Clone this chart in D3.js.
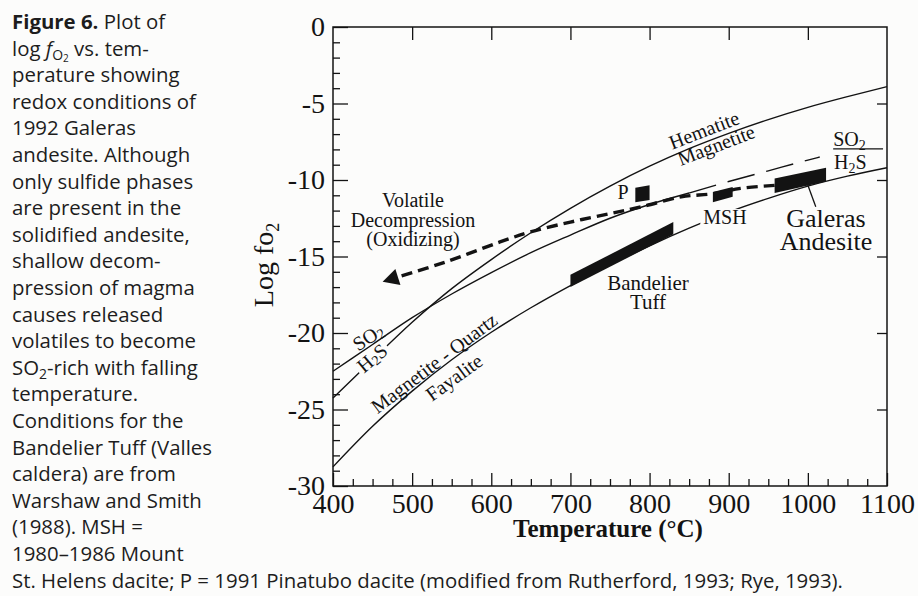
<!DOCTYPE html>
<html>
<head>
<meta charset="utf-8">
<script src="https://cdnjs.cloudflare.com/ajax/libs/d3/7.8.5/d3.min.js"></script>
<style>
  body { margin: 0; background: #fcfcfb; }
  svg { display: block; }
  text { white-space: pre; }
</style>
</head>
<body>
<div id="fig"></div>
<script>
// buffer curves, log fO2 every 50 °C
var temps = [400, 450, 500, 550, 600, 650, 700, 750, 800, 850, 900, 950, 1000, 1050, 1100];
var hmLog = [-24.25, -21.75, -19.3, -17.1, -15.2, -13.45, -11.85, -10.4, -9.1, -7.95, -6.95, -6.05, -5.25, -4.55, -3.9];
var fmqLog = [-28.75, -26.1, -23.8, -21.75, -19.95, -18.35, -16.9, -15.55, -14.3, -13.15, -12.1, -11.2, -10.4, -9.75, -9.2];

// SO2 / H2S boundary: solid up to 850 °C, long dashes above
var so2T = [400, 450, 500, 550, 600, 650, 700, 750, 800, 850, 900, 950, 1000, 1015];
var so2Log = [-22.5, -20.75, -19.0, -17.45, -16.05, -14.75, -13.6, -12.5, -11.6, -10.85, -10.1, -9.4, -8.7, -8.5];
var so2Break = 850;
var so2BarT = [1032, 1095], so2BarLog = [-7.97, -7.97];

// volatile decompression path (Galeras -> arrow head)
var arrowT = [958, 915, 880, 840, 790, 750, 700, 649, 611, 540, 482];
var arrowLog = [-10.35, -10.55, -10.9, -11.1, -11.75, -12.2, -12.75, -13.4, -14.05, -15.4, -16.34];

// sample fields: T range and lower / upper log fO2 at each end
var fieldNames = ['P', 'MSH', 'Galeras', 'Bandelier'];
var fieldT = [[782, 800], [880, 905], [958, 1023], [700, 830]];
var fieldLow = [[-11.45, -11.3], [-11.45, -11.1], [-10.85, -10.1], [-17.0, -13.55]];
var fieldHigh = [[-10.5, -10.35], [-10.78, -10.45], [-9.9, -9.2], [-16.2, -12.75]];
var leaderT = [999, 1010], leaderLog = [-10.2, -11.75];

var xTicks = [400, 500, 600, 700, 800, 900, 1000, 1100];
var yTicks = [0, -5, -10, -15, -20, -25, -30];

var caption = [
  [['Figure 6.', 'b'], [' Plot of']],
  [['log '], ['f', 'i'], ['O', 's1'], ['2', 's2'], [' vs. tem-']],
  [['perature showing']],
  [['redox conditions of']],
  [['1992 Galeras']],
  [['andesite. Although']],
  [['only sulfide phases']],
  [['are present in the']],
  [['solidified andesite,']],
  [['shallow decom-']],
  [['pression of magma']],
  [['causes released']],
  [['volatiles to become']],
  [['SO'], ['2', 's1'], ['-rich with falling']],
  [['temperature.']],
  [['Conditions for the']],
  [['Bandelier Tuff (Valles']],
  [['caldera) are from']],
  [['Warshaw and Smith']],
  [['(1988). MSH =']],
  [['1980\u20131986 Mount']],
  [['St. Helens dacite; P = 1991 Pinatubo dacite (modified from Rutherford, 1993; Rye, 1993).']]
];

var W = 918, H = 596;
var ink = '#131313', paper = '#fcfcfb';
var serif = '"Liberation Serif", "Times New Roman", serif';

var svg = d3.select('#fig').append('svg').attr('width', W).attr('height', H);
svg.append('rect').attr('width', W).attr('height', H).attr('fill', paper);

var x = d3.scaleLinear().domain([400, 1100]).range([333, 887]);
var y = d3.scaleLinear().domain([0, -30]).range([27, 486]);

function zip(ts, vs) { return ts.map(function(t, i) { return [t, vs[i]]; }); }
var line = d3.line().x(function(d) { return x(d[0]); }).y(function(d) { return y(d[1]); }).curve(d3.curveMonotoneX);
var pathLine = d3.line().x(function(d) { return x(d[0]); }).y(function(d) { return y(d[1]); }).curve(d3.curveCatmullRom);

var plot = svg.append('g');

// buffers
plot.append('path').attr('d', line(zip(temps, hmLog)))
  .attr('fill', 'none').attr('stroke', ink).attr('stroke-width', 1.4);
plot.append('path').attr('d', line(zip(temps, fmqLog)))
  .attr('fill', 'none').attr('stroke', ink).attr('stroke-width', 1.4);

var so2 = zip(so2T, so2Log);
plot.append('path').attr('d', line(so2.filter(function(d) { return d[0] <= so2Break; })))
  .attr('fill', 'none').attr('stroke', ink).attr('stroke-width', 1.4);
plot.append('path').attr('d', line(so2.filter(function(d) { return d[0] >= so2Break; })))
  .attr('fill', 'none').attr('stroke', ink).attr('stroke-width', 1.4).attr('stroke-dasharray', '28,12');
plot.append('path').attr('d', line(zip(so2BarT, so2BarLog)))
  .attr('fill', 'none').attr('stroke', ink).attr('stroke-width', 1.3);

// decompression arrow
var arrow = zip(arrowT, arrowLog);
plot.append('path').attr('d', pathLine(arrow))
  .attr('fill', 'none').attr('stroke', ink).attr('stroke-width', 3.4).attr('stroke-dasharray', '11,6');
var a0 = [x(arrow[arrow.length - 2][0]), y(arrow[arrow.length - 2][1])],
    a1 = [x(arrow[arrow.length - 1][0]), y(arrow[arrow.length - 1][1])];
var dx = a1[0] - a0[0], dy = a1[1] - a0[1], len = Math.sqrt(dx * dx + dy * dy);
var ux = dx / len, uy = dy / len;
plot.append('path')
  .attr('d', 'M' + (a1[0] + ux * 16) + ',' + (a1[1] + uy * 16) +
    'L' + (a1[0] - uy * 8.5) + ',' + (a1[1] + ux * 8.5) +
    'L' + (a1[0] + uy * 8.5) + ',' + (a1[1] - ux * 8.5) + 'Z')
  .attr('fill', ink);

// sample fields
fieldNames.forEach(function(name, i) {
  var pts = [[fieldT[i][0], fieldLow[i][0]], [fieldT[i][1], fieldLow[i][1]],
             [fieldT[i][1], fieldHigh[i][1]], [fieldT[i][0], fieldHigh[i][0]]];
  plot.append('polygon').attr('class', 'field-' + name)
    .attr('points', pts.map(function(d) { return x(d[0]) + ',' + y(d[1]); }).join(' '))
    .attr('fill', ink);
});
plot.append('path').attr('d', d3.line()(zip(leaderT, leaderLog).map(function(d) { return [x(d[0]), y(d[1])]; })))
  .attr('stroke', ink).attr('stroke-width', 1.3);

// labels in data coordinates
var labels = [
  {parts: [['Hematite']], T: 868.8, v: -6.73, r: -21, center: true},
  {parts: [['Magnetite']], T: 884, v: -7.71, r: -21, center: true},
  {parts: [['SO'], ['2', 1]], T: 1032, v: -7.75, anchor: 'start'},
  {parts: [['H'], ['2', 1], ['S']], T: 1033, v: -9.25, anchor: 'start'},
  {parts: [['SO'], ['2', 1]], T: 444.2, v: -20.26, r: -33, center: true},
  {parts: [['H'], ['2', 1], ['S']], T: 449.3, v: -21.63, r: -40, center: true, knock: true},
  {parts: [['Magnetite - Quartz']], T: 527.6, v: -21.96, r: -37, center: true},
  {parts: [['Fayalite']], T: 552.9, v: -22.9, r: -36, center: true},
  {parts: [['P']], T: 766.4, v: -11.24},
  {parts: [['MSH']], T: 895.3, v: -12.88, knock: true},
  {parts: [['Galeras']], T: 1022.9, v: -13.08, size: 26},
  {parts: [['Andesite']], T: 1022.9, v: -14.55, size: 26},
  {parts: [['Bandelier']], T: 798, v: -17.19, size: 21},
  {parts: [['Tuff']], T: 798, v: -18.43, size: 21},
  {parts: [['Volatile']], T: 501, v: -11.76},
  {parts: [['Decompression']], T: 501, v: -13.07},
  {parts: [['(Oxidizing)']], T: 501, v: -14.31}
];

labels.forEach(function(o) {
  var g = plot.append('g')
    .attr('transform', 'translate(' + x(o.T) + ',' + y(o.v) + ') rotate(' + (o.r || 0) + ')');
  var t = g.append('text').attr('text-anchor', o.anchor || 'middle')
    .attr('font-family', serif).attr('font-size', o.size || 20).attr('fill', ink);
  if (o.center) t.attr('dominant-baseline', 'central');
  var off = 0;
  o.parts.forEach(function(p) {
    var target = p[1] ? 4 : 0;
    var ts = t.append('tspan').text(p[0]).attr('dy', target - off);
    if (p[1]) ts.attr('font-size', 14);
    off = target;
  });
  if (o.knock) {
    var b = t.node().getBBox();
    var top = o.center ? -8 : -15, h = o.center ? 16 : 17;
    g.insert('rect', 'text').attr('x', b.x - 3).attr('y', top)
      .attr('width', b.width + 6).attr('height', h).attr('fill', paper);
  }
});

// axes
function styleAxis(g) {
  g.select('.domain').remove();
  g.selectAll('line').attr('stroke', ink).attr('stroke-width', 1.3);
  g.selectAll('text').attr('fill', ink);
  g.attr('font-family', serif).attr('font-size', 28);
}
var yMinor = d3.range(0, -31, -1).filter(function(v) { return v % 5 != 0; });
var xMinor = d3.range(400, 1101, 25).filter(function(t) { return t % 100 != 0; });

svg.append('g').attr('transform', 'translate(333,0)')
  .call(d3.axisLeft(y).tickValues(yMinor).tickSize(-7).tickFormat('')).call(styleAxis);
svg.append('g').attr('transform', 'translate(333,0)')
  .call(d3.axisLeft(y).tickValues(yTicks).tickSize(-15).tickPadding(8)
    .tickFormat(function(d) { return String(d); })).call(styleAxis);
svg.append('g').attr('transform', 'translate(0,486)')
  .call(d3.axisBottom(x).tickValues(xMinor).tickSize(-7).tickFormat('')).call(styleAxis);
svg.append('g').attr('transform', 'translate(0,486)')
  .call(d3.axisBottom(x).tickValues(xTicks).tickSize(-13).tickPadding(7)
    .tickFormat(function(d) { return String(d); })).call(styleAxis);
svg.append('g').attr('transform', 'translate(0,27)')
  .call(d3.axisTop(x).tickValues(xTicks.slice(1, -1)).tickSize(-13).tickFormat('')).call(styleAxis);
svg.append('g').attr('transform', 'translate(887,0)')
  .call(d3.axisRight(y).tickValues(yTicks.slice(1, -1)).tickSize(-10).tickFormat('')).call(styleAxis);

svg.append('rect').attr('x', x.range()[0]).attr('y', y.range()[0])
  .attr('width', x.range()[1] - x.range()[0]).attr('height', y.range()[1] - y.range()[0])
  .attr('fill', 'none').attr('stroke', ink).attr('stroke-width', 1.5);

// axis titles
svg.append('text').attr('x', 608).attr('y', 537).attr('text-anchor', 'middle')
  .attr('font-family', serif).attr('font-size', 25).attr('font-weight', 700).attr('fill', ink)
  .text('Temperature (\u00B0C)');
var yt = svg.append('text').attr('transform', 'translate(273,265) rotate(-90)').attr('text-anchor', 'middle')
  .attr('font-family', serif).attr('font-size', 28).attr('fill', ink);
yt.append('tspan').text('Log fo');
yt.append('tspan').text('2').attr('font-size', 18).attr('dy', 6);

// caption
var cap = svg.append('g').attr('font-family', '"Open Sans", sans-serif').attr('font-size', 20.4).attr('fill', '#1d1d1d');
caption.forEach(function(segs, i) {
  var t = cap.append('text').attr('x', 12).attr('y', 29 + i * 26.6);
  var off = 0;
  segs.forEach(function(s) {
    var target = s[1] == 's1' ? 4 : s[1] == 's2' ? 6 : 0;
    var ts = t.append('tspan').text(s[0]).attr('dy', target - off);
    off = target;
    if (s[1] == 'b') ts.attr('font-weight', 700);
    if (s[1] == 'i') ts.attr('font-style', 'italic');
    if (s[1] == 's1') ts.attr('font-size', 14);
    if (s[1] == 's2') ts.attr('font-size', 10);
  });
});
</script>
</body>
</html>
